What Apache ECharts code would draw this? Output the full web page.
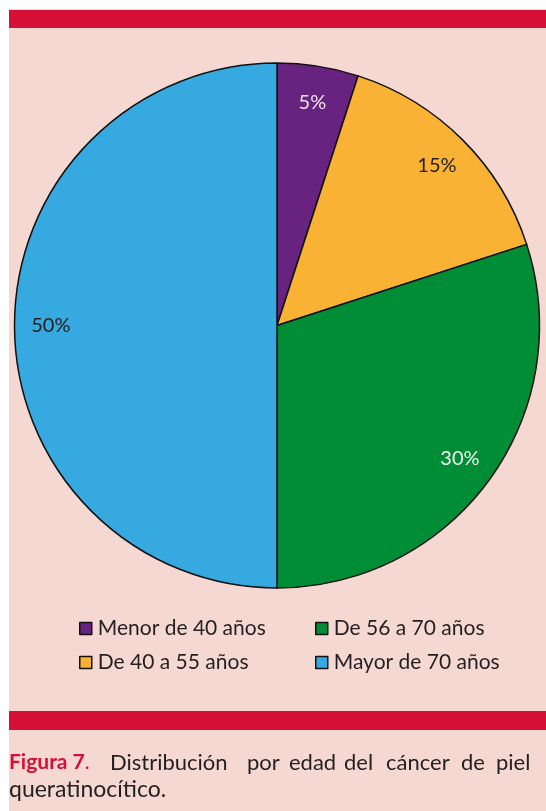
<!DOCTYPE html>
<html>
<head>
<meta charset="utf-8">
<script src="https://cdn.jsdelivr.net/npm/echarts@6/dist/echarts.min.js"></script>
<style>
  html, body { margin: 0; padding: 0; background: #fff; }
  #chart { width: 546px; height: 811px; }
</style>
</head>
<body>
<div id="chart"></div>
<script>
// datos del gráfico
const categories = ['Menor de 40 años', 'De 40 a 55 años', 'De 56 a 70 años', 'Mayor de 70 años']
const values = [5, 15, 30, 50]
const colors = ['#68227f', '#f9b233', '#008d36', '#36a9e1']
const labelColors = ['#eee4f0', '#231f20', '#f2f2f2', '#231f20']
const captionWords = ['Distribución', 'por', 'edad', 'del', 'cáncer', 'de', 'piel']
const captionX = [110, 247, 289, 344, 386, 461, 496]

const FONT = 'Lato, "Open Sans", sans-serif'
const R = 262.5
const CENTER = [277, 325.5]

const chart = echarts.init(document.getElementById('chart'))

const pieData = categories.map((name, i) => ({
  name: name,
  value: values[i],
  itemStyle: { color: colors[i] }
}))

const labelData = categories.map((name, i) => ({
  name: name,
  value: values[i],
  label: { color: labelColors[i] }
}))

const legendBase = {
  orient: 'vertical',
  itemWidth: 12,
  itemHeight: 12,
  itemGap: 13,
  icon: 'rect',
  selectedMode: false,
  itemStyle: { borderColor: '#111', borderWidth: 1.5 },
  textStyle: { fontFamily: FONT, fontSize: 21, color: '#231f20', padding: [0, 0, 0, 1] }
}

const caption = [
  {
    type: 'text', left: 9, top: 752,
    style: {
      text: '{b|Figura 7}{r|.}',
      rich: {
        b: { fontFamily: FONT, fontSize: 21, fontWeight: 'bold', fill: '#d60f37' },
        r: { fontFamily: FONT, fontSize: 21, fill: '#d60f37' }
      }
    }
  },
  {
    type: 'text', left: 9, top: 778,
    style: { text: 'queratinocítico.', fontFamily: FONT, fontSize: 23, fill: '#231f20' }
  }
]
captionWords.forEach((w, i) => {
  caption.push({
    type: 'text', left: captionX[i], top: 752,
    style: { text: w, fontFamily: FONT, fontSize: 22, fill: '#231f20' }
  })
})

const option = {
  animation: false,
  graphic: [
    { type: 'rect', shape: { x: 9, y: 9, width: 537, height: 802 }, style: { fill: '#f6d8d3' }, z: -10 },
    { type: 'rect', shape: { x: 9, y: 10, width: 537, height: 18 }, style: { fill: '#d60f37' }, z: -9 },
    { type: 'rect', shape: { x: 9, y: 711, width: 537, height: 19 }, style: { fill: '#d60f37' }, z: -9 }
  ].concat(caption),
  legend: [
    Object.assign({}, legendBase, { left: 74, top: 613, data: categories.slice(0, 2) }),
    Object.assign({}, legendBase, { left: 310, top: 613, data: categories.slice(2, 4) })
  ],
  series: [
    {
      type: 'pie',
      center: CENTER,
      radius: [0, R],
      startAngle: 90,
      clockwise: true,
      label: { show: false },
      labelLine: { show: false },
      emphasis: { disabled: true },
      itemStyle: { borderColor: '#111', borderWidth: 1.5 },
      data: pieData
    },
    {
      type: 'pie',
      center: CENTER,
      radius: [R * 0.7, R],
      startAngle: 90,
      clockwise: true,
      silent: true,
      itemStyle: { color: 'transparent' },
      label: {
        show: true,
        position: 'inside',
        formatter: '{c}%',
        fontFamily: FONT,
        fontSize: 20
      },
      labelLine: { show: false },
      emphasis: { disabled: true },
      data: labelData
    }
  ]
}

chart.setOption(option)
</script>
</body>
</html>
